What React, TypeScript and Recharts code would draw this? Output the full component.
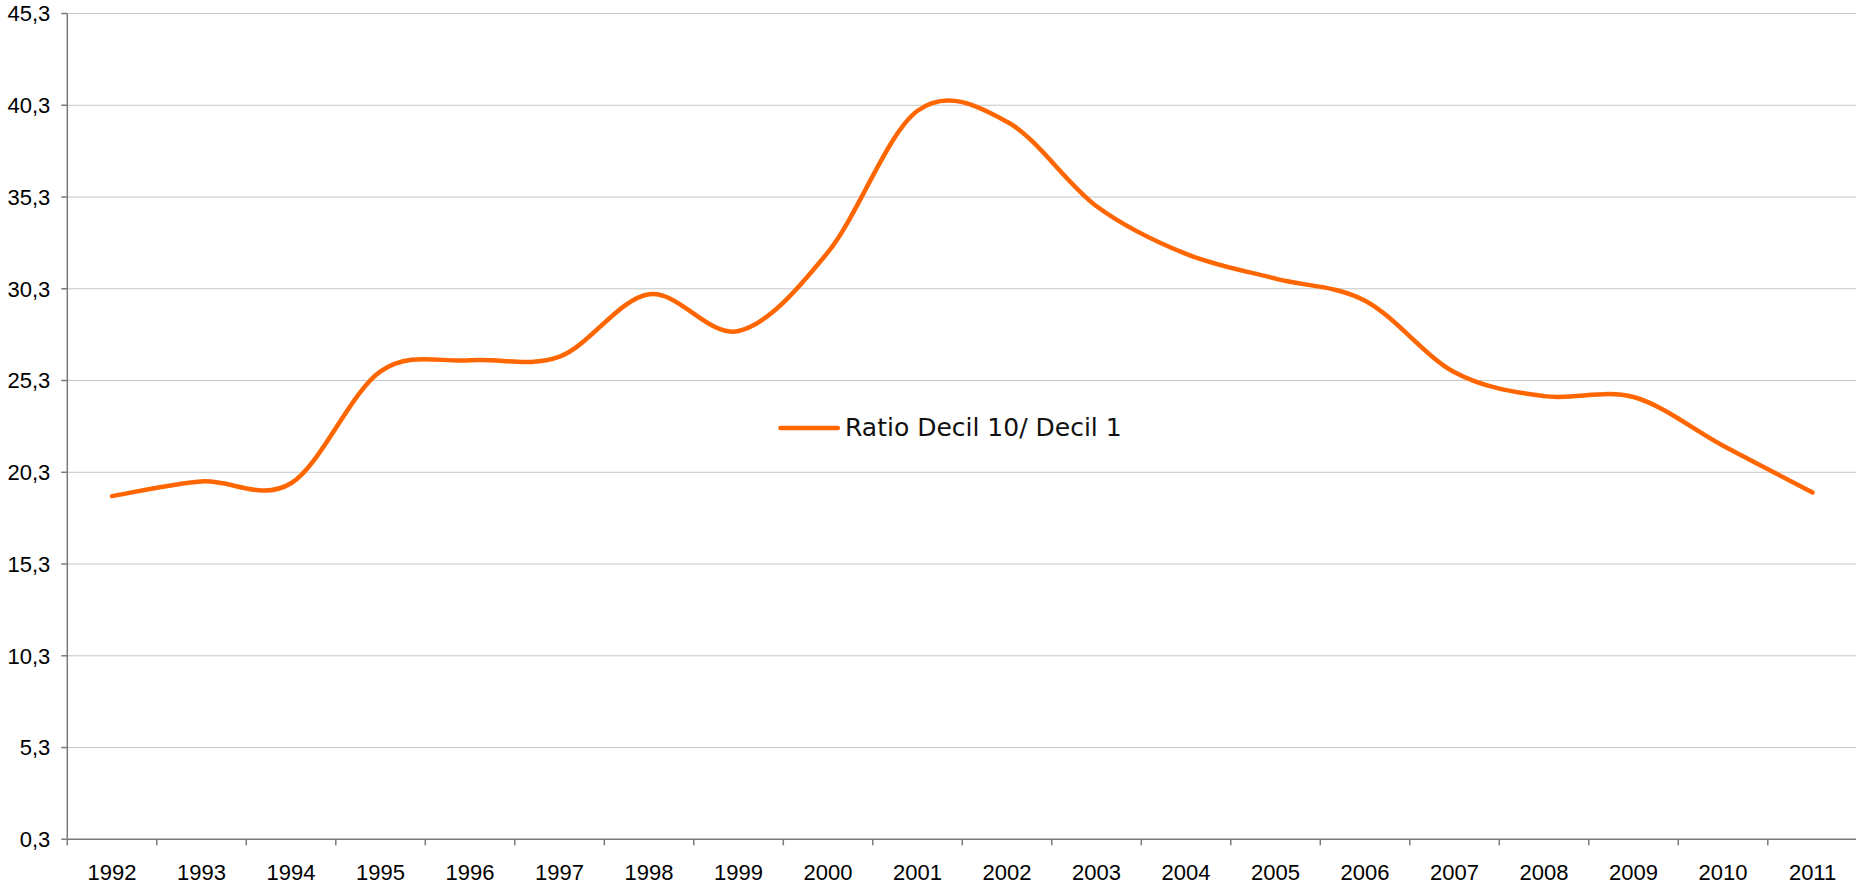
import React from 'react';
import { LineChart, Line, XAxis, YAxis, CartesianGrid, Legend } from 'recharts';

const years = ['1992', '1993', '1994', '1995', '1996', '1997', '1998', '1999', '2000', '2001',
  '2002', '2003', '2004', '2005', '2006', '2007', '2008', '2009', '2010', '2011'];
const ratioValues = [19.0, 19.8, 19.7, 25.8, 26.4, 26.6, 30.0, 28.0, 32.3, 40.0,
  39.4, 34.8, 32.2, 30.85, 29.65, 25.75, 24.45, 24.4, 21.75, 19.2];
const yTicks = [0.3, 5.3, 10.3, 15.3, 20.3, 25.3, 30.3, 35.3, 40.3, 45.3];
const bandEdges = [0, 1, 2, 3, 4, 5, 6, 7, 8, 9, 10, 11, 12, 13, 14, 15, 16, 17, 18, 19, 20];
const seriesName = 'Ratio Decil 10/ Decil 1';

// slot = position of each category in band units (category i sits in the middle of band i)
const data = years.map((year, i) => ({ year, slot: i + 0.5, ratio: ratioValues[i] }));

const LINE_COLOR = '#FF6600';
const AXIS_COLOR = '#7a7a7a';
const GRID_COLOR = '#c6c6c6';
const TICK_FONT = "'Liberation Sans', Arial, sans-serif";

// Excel-like smoothed line (Catmull-Rom style Bezier through every point)
const excelSmooth: any = (context: any) => {
  let pts: number[][] = [];
  return {
    areaStart() {},
    areaEnd() {},
    lineStart() {
      pts = [];
    },
    point(x: number, y: number) {
      pts.push([+x, +y]);
    },
    lineEnd() {
      const n = pts.length;
      if (!n) return;
      context.moveTo(pts[0][0], pts[0][1]);
      if (n === 1) return;
      for (let i = 0; i < n - 1; i++) {
        const p0 = pts[Math.max(i - 1, 0)];
        const p1 = pts[i];
        const p2 = pts[i + 1];
        const p3 = pts[Math.min(i + 2, n - 1)];
        context.bezierCurveTo(
          p1[0] + (p2[0] - p0[0]) / 6,
          p1[1] + (p2[1] - p0[1]) / 6,
          p2[0] - (p3[0] - p1[0]) / 6,
          p2[1] - (p3[1] - p1[1]) / 6,
          p2[0],
          p2[1]
        );
      }
    },
  };
};

const noTick = () => <g />;

const LegendContent = () => (
  <div
    style={{
      display: 'flex',
      alignItems: 'center',
      height: 30,
      fontFamily: "'DejaVu Sans', sans-serif",
      fontSize: 25,
      color: '#111',
      whiteSpace: 'nowrap',
    }}
  >
    <svg width={66} height={10} style={{ display: 'block' }}>
      <line x1={4.5} y1={5} x2={61.8} y2={5} stroke={LINE_COLOR} strokeWidth={4.5} strokeLinecap="round" />
    </svg>
    <span style={{ marginLeft: 3 }}>{seriesName}</span>
  </div>
);

export default function App() {
  return (
    <div
      style={{
        position: 'absolute',
        left: 0,
        top: 0,
        width: 1856,
        height: 886,
        overflow: 'hidden',
        background: '#ffffff',
      }}
    >
      <LineChart
        width={1858}
        height={886}
        data={data}
        margin={{ top: 13.5, right: 0.7, bottom: 46.68, left: 0 }}
      >
        <CartesianGrid xAxisId="cat" vertical={false} stroke={GRID_COLOR} strokeWidth={1} />
        <XAxis
          xAxisId="edge"
          dataKey="slot"
          type="number"
          domain={[0, 20]}
          ticks={bandEdges}
          height={0.01}
          axisLine={false}
          tickLine={{ stroke: AXIS_COLOR, strokeWidth: 1.5 }}
          tickSize={6}
          tick={noTick}
          interval={0}
          allowDataOverflow
        />
        <XAxis
          xAxisId="cat"
          dataKey="year"
          scale="band"
          height={0.01}
          interval={0}
          axisLine={{ stroke: AXIS_COLOR, strokeWidth: 1.5 }}
          tickLine={false}
          tickSize={6}
          tickMargin={19}
          tick={{ fill: '#000', fontSize: 22, fontFamily: TICK_FONT }}
        />
        <YAxis
          type="number"
          domain={[0.3, 45.3]}
          ticks={yTicks}
          interval={0}
          width={67.3}
          axisLine={{ stroke: AXIS_COLOR, strokeWidth: 1.5 }}
          tickLine={{ stroke: AXIS_COLOR, strokeWidth: 1.5 }}
          tickSize={6}
          tickMargin={11}
          tick={{ fill: '#000', fontSize: 22, fontFamily: TICK_FONT }}
          tickFormatter={(v: number) => v.toFixed(1).replace('.', ',')}
        />
        <Legend
          layout="horizontal"
          verticalAlign="middle"
          align="center"
          content={<LegendContent />}
          wrapperStyle={{ left: 776, top: 412.5, width: 'auto' }}
        />
        <Line
          xAxisId="cat"
          dataKey="ratio"
          name={seriesName}
          type={excelSmooth}
          stroke={LINE_COLOR}
          strokeWidth={4.5}
          strokeLinecap="round"
          strokeLinejoin="round"
          dot={false}
          activeDot={false}
          isAnimationActive={false}
        />
      </LineChart>
    </div>
  );
}
